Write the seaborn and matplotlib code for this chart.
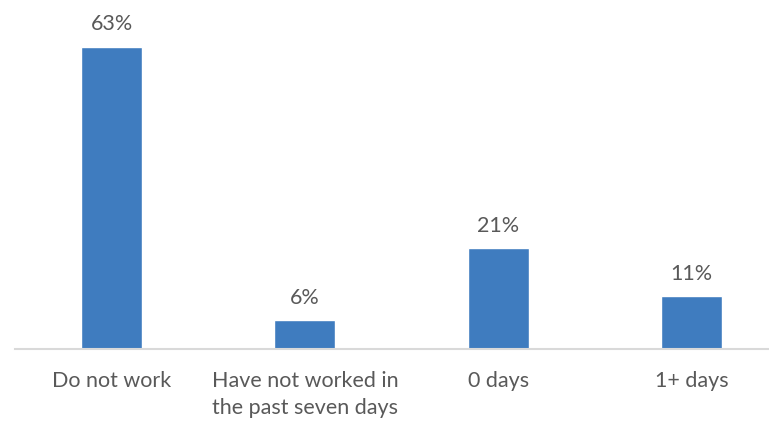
import matplotlib
matplotlib.use("Agg")
import matplotlib.pyplot as plt
import pandas as pd
import seaborn as sns

categories = ["Do not work", "Have not worked in\nthe past seven days", "0 days", "1+ days"]
values = [63, 6, 21, 11]

df = pd.DataFrame({"Category": categories, "Share": values})

sns.set_style("white")
plt.rcParams['font.family'] = ['Lato', 'DejaVu Sans']

fig = plt.figure(figsize=(7.69, 4.21), dpi=100)
# axes spans past the right edge, as in the original crop
ax = fig.add_axes([15 / 769, 72 / 421, 773 / 769, 329 / 421])

sns.barplot(data=df, x="Category", y="Share", color="#3f7cbf", width=0.316,
            saturation=1, ax=ax)

ax.set_xlim(-0.5, 3.5)
ax.set_ylim(0, 329 / 4.8)

for i, v in enumerate(values):
    ax.annotate(f"{v}%", (i, v), xytext=(0, 9), textcoords="offset points",
                ha="center", va="bottom", fontsize=15.5, color="#595959")

for s in ["top", "right", "left"]:
    ax.spines[s].set_visible(False)
ax.spines["bottom"].set_color("#d9d9d9")
ax.spines["bottom"].set_linewidth(1.5)

ax.set_yticks([])
ax.set_xlabel("")
ax.set_ylabel("")
ax.tick_params(axis="x", length=0, pad=16, labelsize=15.5, labelcolor="#595959")
for t in ax.get_xticklabels():
    t.set_va("top")
    t.set_linespacing(1.45)

fig.savefig("out.png", dpi=100)
